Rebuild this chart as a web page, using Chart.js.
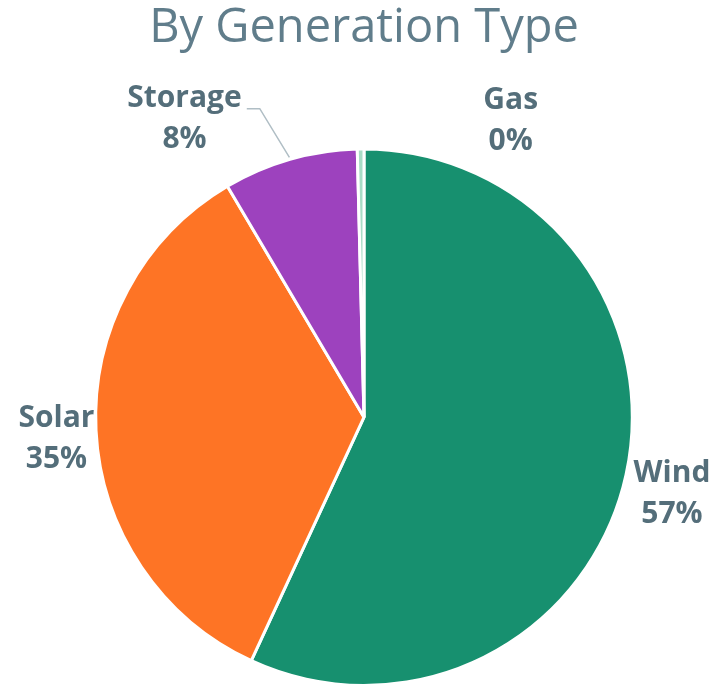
<!DOCTYPE html>
<html>
<head>
<meta charset="utf-8">
<script src="https://cdn.jsdelivr.net/npm/chart.js@4.4.1/dist/chart.umd.min.js"></script>
<style>
    html, body { margin: 0; padding: 0; background: #ffffff; }
    #wrap { width: 714px; height: 687px; }
</style>
</head>
<body>
<div id="wrap"><canvas id="genChart" width="714" height="687"></canvas></div>
<script>
// Chart data
const CATEGORIES = ['Wind', 'Solar', 'Storage', 'Gas'];
const SHARE_VALUES = [56.9, 34.6, 8.1, 0.4];
const SLICE_COLORS = ['#17906f', '#fe7425', '#9d42be', '#a9dcc6'];

const LABEL_COLOR = '#546e7a';
const LABEL_FONT = 'bold 30px "Open Sans", "Noto Sans", sans-serif';

// where each outside label sits: angle shift from the slice middle (deg), distance past the rim (px)
const labelPlacement = {
    Wind:    { shift: 1.5, dist: 49, leader: false },
    Solar:   { shift: -1,  dist: 40, leader: false },
    Storage: { shift: -15, dist: 80, leader: true },
    Gas:     { shift: 27,  dist: 63, leader: false }
};

const outsideLabels = {
    id: 'outsideLabels',
    afterDatasetsDraw(chart) {
        const ctx = chart.ctx;
        const meta = chart.getDatasetMeta(0);
        const total = SHARE_VALUES.reduce((a, b) => a + b, 0);

        ctx.save();
        ctx.font = LABEL_FONT;
        ctx.textAlign = 'center';
        ctx.textBaseline = 'middle';

        meta.data.forEach((arc, i) => {
            const p = arc.getProps(['x', 'y', 'startAngle', 'endAngle', 'outerRadius'], true);
            const name = CATEGORIES[i];
            const place = labelPlacement[name];
            const mid = (p.startAngle + p.endAngle) / 2;
            const ang = mid + place.shift * Math.PI / 180;
            const cx = p.x + Math.cos(ang) * (p.outerRadius + place.dist);
            const cy = p.y + Math.sin(ang) * (p.outerRadius + place.dist);
            const pct = Math.round(SHARE_VALUES[i] / total * 100) + '%';

            if (place.leader) {
                const w = ctx.measureText(name).width;
                const right = cx + w / 2;
                const ly = cy - 10;
                ctx.strokeStyle = '#b0bec5';
                ctx.lineWidth = 1.5;
                ctx.beginPath();
                ctx.moveTo(p.x + Math.cos(mid) * (p.outerRadius + 2), p.y + Math.sin(mid) * (p.outerRadius + 2));
                ctx.lineTo(right + 18, ly);
                ctx.lineTo(right + 5, ly);
                ctx.stroke();
            }

            ctx.fillStyle = LABEL_COLOR;
            ctx.fillText(name, cx, cy - 20);
            ctx.fillText(pct, cx, cy + 21);
        });
        ctx.restore();
    }
};

new Chart(document.getElementById('genChart'), {
    type: 'pie',
    data: {
        labels: CATEGORIES,
        datasets: [{
            data: SHARE_VALUES,
            backgroundColor: SLICE_COLORS,
            borderColor: '#ffffff',
            borderWidth: 3
        }]
    },
    options: {
        responsive: false,
        animation: false,
        layout: {
            padding: { left: 94, right: 80, top: 0, bottom: 0 }
        },
        plugins: {
            legend: { display: false },
            tooltip: { enabled: false },
            title: {
                display: true,
                text: 'By Generation Type',
                color: '#607d8b',
                font: { family: '"Open Sans", "Noto Sans", sans-serif', size: 47, weight: 'normal' },
                padding: { top: 0, bottom: 91 }
            }
        }
    },
    plugins: [outsideLabels]
});
</script>
</body>
</html>
